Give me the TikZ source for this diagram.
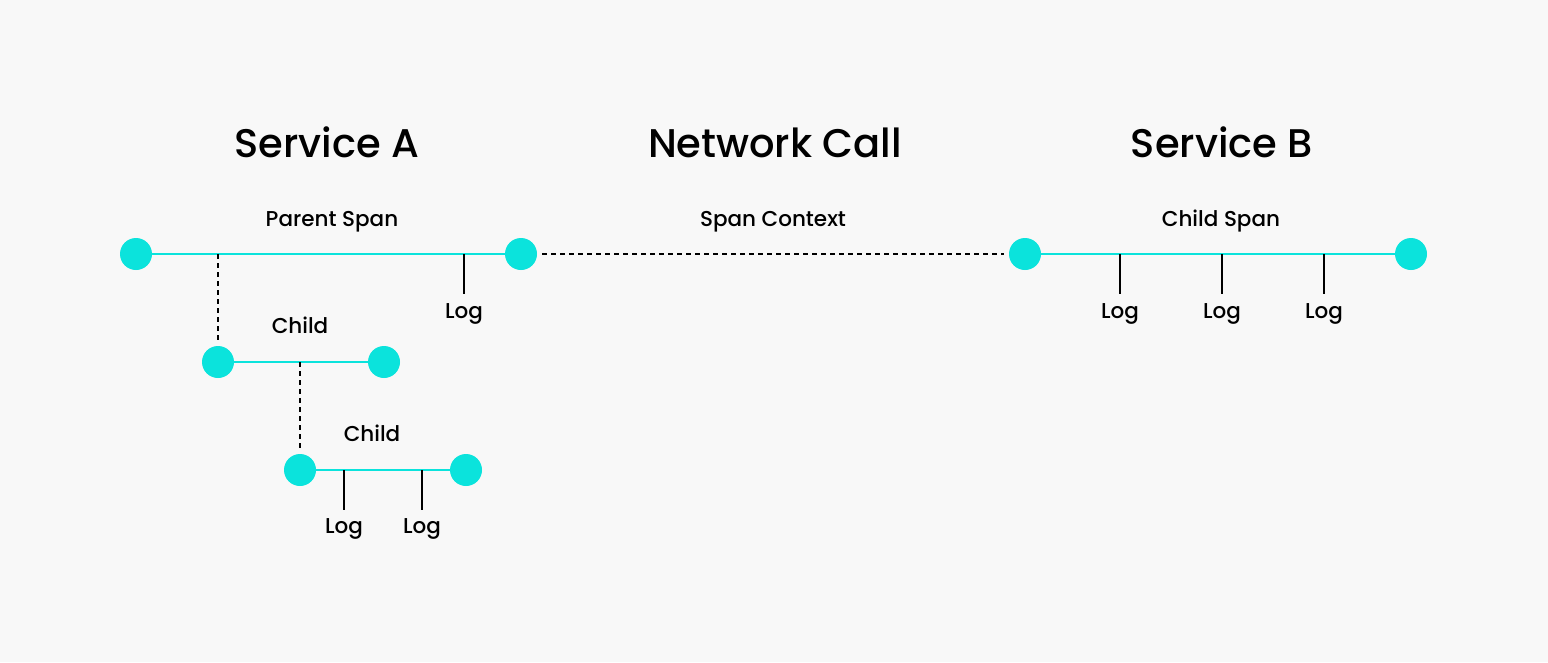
\documentclass[tikz,border=0pt]{standalone}
\usepackage{fontspec}
\setmainfont{Poppins}
\newfontfamily\titlefont{Poppins}[UprightFont=* Medium]
\definecolor{bgc}{HTML}{F8F8F8}
\definecolor{cyanc}{HTML}{0BE3DC}
\begin{document}
\begin{tikzpicture}[x=1pt,y=-1pt,
  dotc/.style={circle,fill=cyanc,minimum size=32pt,inner sep=0pt},
  spanline/.style={draw=cyanc,line width=2pt},
  logtick/.style={draw=black,line width=1.6pt},
  ctxline/.style={draw=black,line width=1.6pt,dash pattern=on 5pt off 4pt},
  titletxt/.style={font=\titlefont\fontsize{40}{44}\selectfont,inner sep=0pt,anchor=base},
  lbl/.style={font=\titlefont\fontsize{21.5}{24}\selectfont,inner sep=0pt,anchor=base}]
\fill[bgc] (0,0) rectangle (1548,662);
\useasboundingbox (0,0) rectangle (1548,662);
% titles
\node[titletxt] (tA) at (327,157) {Service A};
\node[titletxt] (tN) at (775,157) {Network Call};
\node[titletxt] (tB) at (1222,157) {Service B};
% labels
\node[lbl] (lp) at (332,226) {Parent Span};
\node[lbl] (lc) at (773,226) {Span Context};
\node[lbl] (lcs) at (1221,226) {Child Span};
\node[lbl] (lch1) at (300,333) {Child};
\node[lbl] (lch2) at (372,441.5) {Child};
% coordinates
\coordinate (pb1) at (218,254);
\coordinate (pl1) at (464,254);
\coordinate (pl1e) at (464,294);
\coordinate (c1b) at (300,362);
\coordinate (c2l1) at (344,470);
\coordinate (c2l1e) at (344,510);
\coordinate (c2l2) at (422,470);
\coordinate (c2l2e) at (422,510);
\coordinate (bl1) at (1120,254);
\coordinate (bl1e) at (1120,294);
\coordinate (bl2) at (1222,254);
\coordinate (bl2e) at (1222,294);
\coordinate (bl3) at (1324,254);
\coordinate (bl3e) at (1324,294);
% span lines
\draw[spanline] (136,254) -- (521,254);
\draw[spanline] (218,362) -- (384,362);
\draw[spanline] (300,470) -- (466,470);
\draw[spanline] (1025,254) -- (1411,254);
% dots
\node[dotc] (pa) at (136,254) {};
\node[dotc] (pz) at (521,254) {};
\node[dotc] (ca) at (218,362) {};
\node[dotc] (cz) at (384,362) {};
\node[dotc] (da) at (300,470) {};
\node[dotc] (dz) at (466,470) {};
\node[dotc] (ba) at (1025,254) {};
\node[dotc] (bz) at (1411,254) {};
% dashed
\draw[ctxline,shorten <=5pt,shorten >=5pt] (pz.east) -- (ba.west);
\draw[ctxline,shorten >=3pt] (pb1) -- (ca.north);
\draw[ctxline,shorten >=3pt] (c1b) -- (da.north);
% log ticks
\draw[logtick] (pl1) -- (pl1e);
\draw[logtick] (c2l1) -- (c2l1e);
\draw[logtick] (c2l2) -- (c2l2e);
\draw[logtick] (bl1) -- (bl1e);
\draw[logtick] (bl2) -- (bl2e);
\draw[logtick] (bl3) -- (bl3e);
\node[lbl] (g1) at (464,318) {Log};
\node[lbl] (g2) at (344,533) {Log};
\node[lbl] (g3) at (422,533) {Log};
\node[lbl] (g4) at (1120,318) {Log};
\node[lbl] (g5) at (1222,318) {Log};
\node[lbl] (g6) at (1324,318) {Log};
\end{tikzpicture}
\end{document}
